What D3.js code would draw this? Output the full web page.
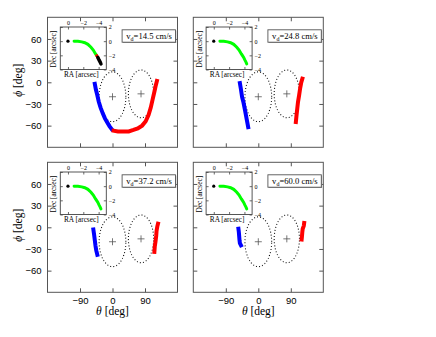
<!DOCTYPE html>
<html><head><meta charset="utf-8">
<script src="https://cdn.jsdelivr.net/npm/d3@7"></script>
<style>body{margin:0;background:#fff}svg{display:block}</style></head>
<body>
<script>
// ---- data ----
const thetaTicks = [-90, 0, 90];
const phiTicks = [-60, -30, 0, 30, 60];
const raTicks = [0, -2, -4];
const decTicks = [2, 0, -2, -4];
const speedLabels = ["14.5", "24.8", "37.2", "60.0"];

const blueTheta = [
  [-49, -46, -42, -38, -33, -27, -21, -14, -8, -2],
  [-51, -48, -45, -41, -37, -34, -31, -28],
  [-53, -51, -49, -47, -45, -42],
  [-55, -54, -53, -52, -51, -48]
];
const bluePhi = [
  [-2, -10, -18, -27, -35, -43, -50, -56, -61, -65],
  [-1, -10, -20, -28, -38, -46, -54, -62],
  [-3, -10, -18, -26, -32, -38],
  [-2, -6, -12, -18, -22, -25]
];
const redTheta = [
  [3, 15, 30, 45, 58, 70, 82, 92, 100, 106, 111, 116, 120, 123],
  [104, 106, 108, 110, 113, 116, 119, 122],
  [116, 117, 119, 121, 122, 124, 126],
  [120, 121, 122, 123, 126, 127]
];
const redPhi = [
  [-67, -68, -68, -68, -66, -64, -60, -54, -45, -35, -24, -13, -4, 2],
  [-55, -45, -36, -27, -18, -8, 0, 5],
  [-34, -27, -20, -12, -5, 1, 5],
  [-17, -12, -6, -2, 2, 6]
];
const ellipseCx = [0, 79];
const ellipseCy = [-20, -16];
const ellipseRx = [37, 35];
const ellipseRy = [34.5, 33];

const trackRA  = [-0.8, -1.3, -1.8, -2.2, -2.6, -3.0, -3.3, -3.6, -3.75, -3.9, -4.05, -4.2, -4.3];
const trackDec = [0, -0.02, -0.1, -0.22, -0.45, -0.85, -1.25, -1.8, -2.05, -2.3, -2.65, -2.95, -3.2];
const firstPanelGreenEnd = 8, firstPanelRedEnd = 9;

// ---- layout ----
const W = 436, H = 337, PW = 130, PH = 130;
const origins = [[47.5, 17.3], [193.3, 17.3], [47.5, 162.3], [193.3, 162.3]];
const svg = d3.select("body").append("svg").attr("width", W).attr("height", H);
const minus = s => String(s).replace("-", "\u2212");

origins.forEach(([x0, y0], p) => {
  const g = svg.append("g");
  const x = d3.scaleLinear().domain([-180, 180]).range([x0, x0 + PW]);
  const y = d3.scaleLinear().domain([-90, 90]).range([y0 + PH, y0]);

  // ellipses
  ellipseCx.forEach((cx, i) => {
    const pts = d3.range(0, 361, 3).map(a => {
      const t = a * Math.PI / 180;
      return [x(cx + ellipseRx[i] * Math.cos(t)), y(ellipseCy[i] + ellipseRy[i] * Math.sin(t))];
    });
    g.append("path").attr("d", d3.line()(pts)).attr("fill", "none")
      .attr("stroke", "#111").attr("stroke-width", 1.1).attr("stroke-dasharray", "1 2.1");
    const cxp = x(cx), cyp = y(ellipseCy[i]);
    g.append("path").attr("d", `M${cxp-3.5},${cyp}H${cxp+3.5}M${cxp},${cyp-3.5}V${cyp+3.5}`)
      .attr("stroke", "#555").attr("stroke-width", 0.8);
  });

  // traces
  const line = d3.line().x(d => x(d[0])).y(d => y(d[1]));
  g.append("path").attr("d", line(blueTheta[p].map((t, i) => [t, bluePhi[p][i]])))
    .attr("fill", "none").attr("stroke", "#0000ff").attr("stroke-width", 4).attr("stroke-linecap", "square");
  g.append("path").attr("d", line(redTheta[p].map((t, i) => [t, redPhi[p][i]])))
    .attr("fill", "none").attr("stroke", "#ff0000").attr("stroke-width", 4).attr("stroke-linecap", "square");

  // axes (inward ticks)
  const ax = (gen, tr, labels) => {
    const a = g.append("g").attr("transform", tr).call(gen);
    a.select(".domain").remove();
    a.selectAll("line").attr("stroke", "#555");
    if (!labels) a.selectAll("text").remove();
    else a.selectAll("text").attr("font-family", "Liberation Sans, Arial, sans-serif").attr("font-size", 9.5).attr("fill", "#000");
    return a;
  };
  ax(d3.axisLeft(y).tickValues(phiTicks).tickSize(-4).tickPadding(6).tickFormat(minus), `translate(${x0},0)`, p % 2 === 0);
  ax(d3.axisRight(y).tickValues(phiTicks).tickSize(-4), `translate(${x0 + PW},0)`, false);
  ax(d3.axisBottom(x).tickValues(thetaTicks).tickSize(-4).tickPadding(5).tickFormat(minus), `translate(0,${y0 + PH})`, p >= 2);
  ax(d3.axisTop(x).tickValues(thetaTicks).tickSize(-4), `translate(0,${y0})`, false);

  g.append("rect").attr("x", x0).attr("y", y0).attr("width", PW).attr("height", PH)
    .attr("fill", "none").attr("stroke", "#555").attr("stroke-width", 1);

  if (p % 2 === 0) {
    g.append("text").attr("transform", `translate(${x0 - 26},${y0 + 63}) rotate(-90)`)
      .attr("text-anchor", "middle").attr("font-family", "Liberation Serif, serif").attr("font-size", 11.5)
      .html('<tspan font-style="italic">ϕ</tspan> [deg]');
  }
  if (p >= 2) {
    g.append("text").attr("x", x0 + 65).attr("y", y0 + PH + 23)
      .attr("text-anchor", "middle").attr("font-family", "Liberation Serif, serif").attr("font-size", 11.5)
      .html('<tspan font-style="italic">θ</tspan> [deg]');
  }

  // speed label box
  const bx = x0 + 74.6, by = y0 + 12.5;
  g.append("rect").attr("x", bx + 0.8).attr("y", by + 0.8).attr("width", 53.4).attr("height", 12.4).attr("fill", "#999");
  g.append("rect").attr("x", bx).attr("y", by).attr("width", 53.4).attr("height", 12.4)
    .attr("fill", "#fff").attr("stroke", "#555").attr("stroke-width", 0.9);
  g.append("text").attr("x", bx + 27).attr("y", by + 9).attr("text-anchor", "middle")
    .attr("font-family", "Liberation Serif, serif").attr("font-size", 8.6)
    .html(`v<tspan font-size="6" dy="2">d</tspan><tspan dy="-2">=${speedLabels[p]} cm/s</tspan>`);

  // inset
  const ix = x0 + 12.8, iy = y0 + 9.7, IW = 46, IH = 42.5;
  const xi = d3.scaleLinear().domain([1, -5]).range([ix, ix + IW]);
  const yi = d3.scaleLinear().domain([-4, 2]).range([iy + IH, iy]);
  g.append("rect").attr("x", ix).attr("y", iy).attr("width", IW).attr("height", IH).attr("fill", "#fff");
  const iax = (gen, tr, labels) => {
    const a = g.append("g").attr("transform", tr).call(gen);
    a.select(".domain").remove();
    a.selectAll("line").attr("stroke", "#444").attr("stroke-width", 0.8);
    if (!labels) a.selectAll("text").remove();
    else a.selectAll("text").attr("font-family", "Liberation Serif, serif").attr("font-size", 6).attr("fill", "#000");
  };
  iax(d3.axisTop(xi).tickValues(raTicks).tickSize(-2.5).tickPadding(2.5).tickFormat(minus), `translate(0,${iy})`, true);
  iax(d3.axisBottom(xi).tickValues(raTicks).tickSize(-2.5), `translate(0,${iy + IH})`, false);
  iax(d3.axisLeft(yi).tickValues(decTicks).tickSize(-2.5), `translate(${ix},0)`, false);
  iax(d3.axisRight(yi).tickValues(decTicks).tickSize(-2.5).tickPadding(2.5).tickFormat(minus), `translate(${ix + IW},0)`, true);
  g.append("rect").attr("x", ix).attr("y", iy).attr("width", IW).attr("height", IH)
    .attr("fill", "none").attr("stroke", "#444").attr("stroke-width", 0.9);

  const il = d3.line().x(d => xi(d[0])).y(d => yi(d[1]));
  const pts = trackRA.map((r, i) => [r, trackDec[i]]);
  const seg = (a, b, col, w) => g.append("path").attr("d", il(pts.slice(a, b + 1)))
    .attr("fill", "none").attr("stroke", col).attr("stroke-width", w).attr("stroke-linecap", "round");
  if (p === 0) {
    seg(0, firstPanelGreenEnd, "#00ff00", 3);
    seg(firstPanelGreenEnd, firstPanelRedEnd, "#ff0000", 3);
    seg(firstPanelRedEnd, pts.length - 1, "#000", 3.5);
  } else {
    seg(0, pts.length - 1, "#00ff00", 3);
  }
  g.append("circle").attr("cx", xi(0)).attr("cy", yi(0)).attr("r", 1.6).attr("fill", "#000");

  g.append("text").attr("transform", `translate(${ix - 4},${iy + IH / 2 + 1}) rotate(-90)`)
    .attr("text-anchor", "middle").attr("font-family", "Liberation Serif, serif").attr("font-size", 7.3)
    .text("Dec [arcsec]");
  g.append("text").attr("x", ix + 21).attr("y", iy + IH + 7.5)
    .attr("text-anchor", "middle").attr("font-family", "Liberation Serif, serif").attr("font-size", 7.3)
    .text("RA [arcsec]");
});
</script>
</body></html>
